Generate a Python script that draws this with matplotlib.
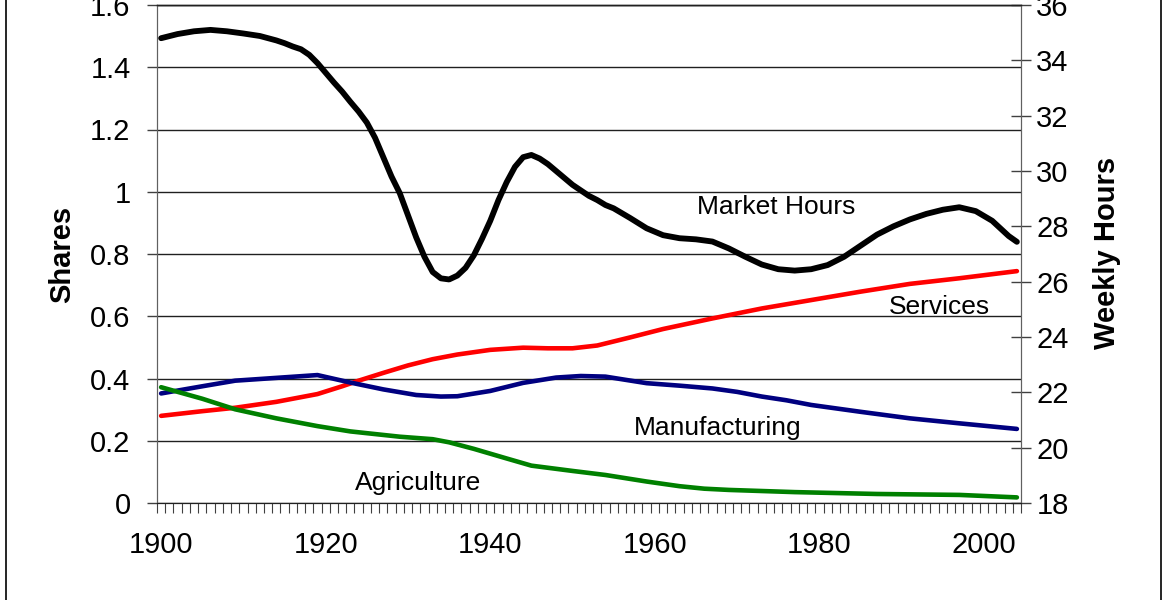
import matplotlib
matplotlib.use("Agg")
import matplotlib.pyplot as plt
from matplotlib.patches import Rectangle
import numpy as np

plt.rcParams['font.family'] = ['Liberation Sans', 'DejaVu Sans']

# ---- data ----
hours_years = [1900, 1902, 1904, 1906, 1908, 1910, 1912, 1914, 1915, 1916, 1917, 1918, 1919,
               1920, 1921, 1922, 1923, 1924, 1925, 1926, 1927, 1928, 1929, 1930, 1931, 1932,
               1933, 1934, 1935, 1936, 1937, 1938, 1939, 1940, 1941, 1942, 1943, 1944, 1945,
               1946, 1947, 1948, 1949, 1950, 1951, 1952, 1953, 1954, 1955, 1957, 1959, 1961,
               1963, 1965, 1967, 1969, 1971, 1973, 1975, 1977, 1979, 1981, 1983, 1985, 1987,
               1989, 1991, 1993, 1995, 1997, 1999, 2001, 2003, 2004]
market_hours = [34.8, 34.95, 35.05, 35.1, 35.05, 34.97, 34.88, 34.72, 34.62, 34.5, 34.4, 34.2,
                33.9, 33.55, 33.2, 32.87, 32.5, 32.15, 31.75, 31.2, 30.5, 29.8, 29.2, 28.4,
                27.6, 26.9, 26.35, 26.12, 26.08, 26.22, 26.5, 26.95, 27.55, 28.2, 28.95, 29.6,
                30.15, 30.5, 30.58, 30.45, 30.25, 30.0, 29.75, 29.5, 29.3, 29.1, 28.95, 28.77,
                28.65, 28.3, 27.93, 27.68, 27.57, 27.53, 27.45, 27.2, 26.9, 26.62, 26.45, 26.4,
                26.45, 26.6, 26.9, 27.3, 27.7, 28.0, 28.25, 28.45, 28.6, 28.69, 28.55, 28.2,
                27.65, 27.44]

serv_years = [1900, 1905, 1909, 1914, 1919, 1922, 1924, 1927, 1930, 1933, 1936, 1940, 1944,
              1947, 1950, 1953, 1957, 1961, 1967, 1973, 1979, 1985, 1991, 1997, 2004]
services = [0.280, 0.295, 0.306, 0.325, 0.350, 0.375, 0.393, 0.418, 0.442, 0.462, 0.477, 0.492,
            0.499, 0.497, 0.497, 0.506, 0.532, 0.559, 0.593, 0.625, 0.652, 0.679, 0.704, 0.722, 0.745]

manu_years = [1900, 1905, 1909, 1914, 1919, 1923, 1927, 1931, 1934, 1936, 1940, 1944, 1948,
              1951, 1954, 1959, 1963, 1967, 1970, 1973, 1976, 1979, 1985, 1991, 1997, 2004]
manufacturing = [0.352, 0.375, 0.393, 0.402, 0.411, 0.387, 0.365, 0.347, 0.342, 0.343, 0.360,
                 0.386, 0.403, 0.408, 0.406, 0.385, 0.377, 0.368, 0.357, 0.342, 0.330, 0.315,
                 0.293, 0.272, 0.256, 0.238]

agri_years = [1900, 1905, 1909, 1914, 1919, 1923, 1929, 1933, 1935, 1938, 1942, 1945, 1950,
              1954, 1959, 1963, 1966, 1969, 1977, 1987, 1997, 2004]
agriculture = [0.372, 0.335, 0.301, 0.272, 0.247, 0.230, 0.213, 0.205, 0.195, 0.174, 0.143,
               0.120, 0.103, 0.090, 0.069, 0.054, 0.046, 0.042, 0.035, 0.029, 0.026, 0.018]

x_labels = ['1900', '1920', '1940', '1960', '1980', '2000']
share_ticks = [0, 0.2, 0.4, 0.6, 0.8, 1.0, 1.2, 1.4, 1.6]
share_labels = ['0', '0.2', '0.4', '0.6', '0.8', '1', '1.2', '1.4', '1.6']
hour_ticks = [18, 20, 22, 24, 26, 28, 30, 32, 34, 36]

# ---- figure ----
W, H = 1165, 600
fig = plt.figure(figsize=(W / 100, H / 100), dpi=100)
ax = fig.add_axes([157 / W, (H - 503) / H, (1021 - 157) / W, (503 - 5) / H])
ax2 = ax.twinx()

ax.set_xlim(1899.5, 2004.5)
ax.set_ylim(0, 1.6)
ax2.set_ylim(18, 36)

ax.set_yticks(share_ticks)
ax.set_yticklabels(share_labels)
ax.yaxis.grid(True, color='#202020', lw=1.0)
ax.set_axisbelow(True)

ax.set_xticks([int(s) for s in x_labels])
ax.set_xticklabels(x_labels)
ax.set_xticks(np.arange(1899.5, 2005, 1.0), minor=True)
ax.tick_params(axis='x', which='major', length=0, pad=20, labelsize=21)
ax.tick_params(axis='x', which='minor', length=7, width=0.8, color='#404040', direction='out')
ax.tick_params(axis='y', which='major', length=7, width=1, color='#404040', direction='out',
               pad=12, labelsize=21)

ax2.set_yticks(hour_ticks)
ax2.tick_params(axis='y', which='major', length=14, width=1, color='#404040', direction='inout',
                pad=4, labelsize=21)

for a in (ax, ax2):
    a.spines['left'].set_color('#606060')
    a.spines['right'].set_color('#606060')
    a.spines['bottom'].set_color('#202020')
    a.spines['top'].set_color('#202020')
    a.spines['top'].set_linewidth(1.0)

kw = dict(solid_capstyle='round', solid_joinstyle='round', zorder=3)
ax.plot(serv_years, services, color='#FF0000', lw=3.3, **kw)
ax.plot(manu_years, manufacturing, color='#000080', lw=3.3, **kw)
ax.plot(agri_years, agriculture, color='#008000', lw=3.3, **kw)
ax2.plot(hours_years, market_hours, color='#000000', lw=4.2, **kw)

ax.text(1974.8, 0.951, 'Market Hours', fontsize=19, ha='center', va='center')
ax.text(1994.6, 0.630, 'Services', fontsize=19, ha='center', va='center')
ax.text(1967.6, 0.241, 'Manufacturing', fontsize=19, ha='center', va='center')
ax.text(1931.2, 0.064, 'Agriculture', fontsize=19, ha='center', va='center')

fig.text(62 / W, 1 - 254 / H, 'Shares', fontsize=21, fontweight='bold', rotation=90,
         ha='center', va='center')
fig.text(1107 / W, 1 - 253 / H, 'Weekly Hours', fontsize=21, fontweight='bold', rotation=90,
         ha='center', va='center')

fig.patches.append(Rectangle((6 / W, -0.02), (1161 - 6) / W, 1.04, transform=fig.transFigure,
                             fill=False, edgecolor='black', lw=1.2))

fig.savefig('out.png', dpi=100)
